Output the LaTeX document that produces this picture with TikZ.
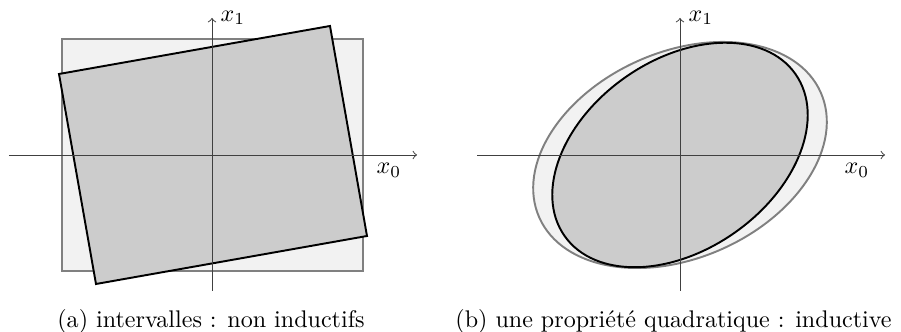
\documentclass[tikz,border=0pt]{standalone}
\usepackage{fontspec}
\begin{document}
\begin{tikzpicture}[
        x=0.0146cm, y=0.0146cm,
        axis/.style={draw=black!75, ->},
        outer/.style={draw=black!50, fill=black!5, thick},
        inner/.style={draw=black, fill=black!20, thick},
    ]
    \useasboundingbox (-212,155) rectangle (689,-177);
    % (a) intervalles
    \draw[outer] (-150,-116) rectangle (151,116);
    \draw[inner] (-153,81) -- (118,129) -- (155,-81) -- (-116,-129) -- cycle;
    \coordinate (aw) at (-203,0);
    \coordinate (ae) at (205,0);
    \coordinate (as) at (0,-136);
    \coordinate (an) at (0,137);
    \draw[axis] (aw) -- (ae) node[below left, xshift=-3] (ax0) {$x_0$};
    \draw[axis] (as) -- (an) node[right] (ax1) {$x_1$};
    \node (capa) at (-1,-166) {(a) intervalles : non inductifs};
    % (b) quadratique
    \begin{scope}[shift={(468,0)}]
        \draw[outer, rotate=24] (0,0) ellipse (154 and 103);
        \draw[inner, rotate=35] (0,0) ellipse (141 and 95);
        \coordinate (bw) at (-203,0);
        \coordinate (be) at (205,0);
        \coordinate (bs) at (0,-136);
        \coordinate (bn) at (0,137);
        \draw[axis] (bw) -- (be) node[below left, xshift=-3] (bx0) {$x_0$};
        \draw[axis] (bs) -- (bn) node[right] (bx1) {$x_1$};
        \node (capb) at (-6.5,-166) {(b) une propriété quadratique : inductive};
    \end{scope}
\end{tikzpicture}
\end{document}
